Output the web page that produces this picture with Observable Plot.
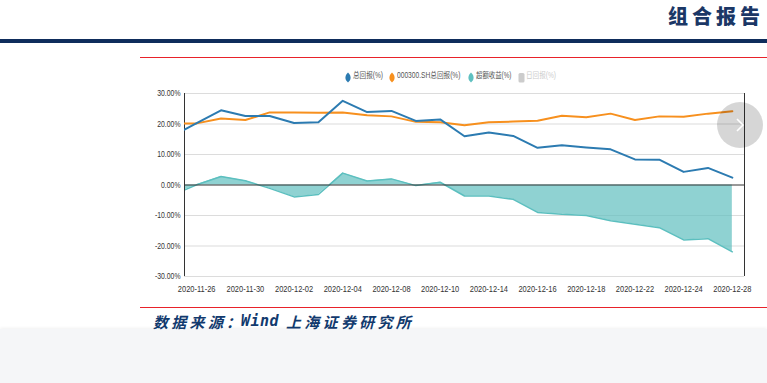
<!DOCTYPE html>
<html><head><meta charset="utf-8">
<script src="https://cdn.jsdelivr.net/npm/d3@7"></script>
<script src="https://cdn.jsdelivr.net/npm/@observablehq/plot@0.6"></script>
<style>
html,body{margin:0;padding:0;width:767px;height:383px;overflow:hidden;background:#fff;position:relative;font-family:"Liberation Sans","Noto Sans CJK SC",sans-serif;}
.abs{position:absolute;}
#title{right:3px;top:2px;font-family:"Noto Sans CJK SC",sans-serif;font-weight:900;font-size:20px;letter-spacing:4px;color:#1b3766;line-height:28px;white-space:nowrap;}
#navy{left:0;top:39px;width:767px;height:4px;background:#0f2d5c;}
.red{left:140px;width:627px;height:1px;background:#e8222a;}
.lg{top:69px;font-size:8.5px;line-height:12px;color:#555;white-space:nowrap;font-family:"Liberation Sans","Noto Sans CJK SC",sans-serif;transform-origin:0 50%;}
#chart{left:140px;top:85px;}
#bottom{left:0;top:329px;width:767px;height:54px;background:#f5f6f8;box-shadow:0 -1px 3px rgba(0,0,0,0.06);}
.cap{top:313px;font-size:15px;line-height:17px;font-weight:bold;font-style:italic;color:#123a6e;white-space:nowrap;}
#circle{left:717px;top:102px;width:46px;height:46px;border-radius:50%;background:rgba(0,0,0,0.16);}
</style></head>
<body>
<div id="title" class="abs">组合报告</div>
<div id="navy" class="abs"></div>
<div class="abs red" style="top:57px"></div>
<div id="legend"></div>
<div id="chart" class="abs"></div>
<div id="circle" class="abs"><svg width="46" height="46"><path d="M20,17 L26,23 L20,29" fill="none" stroke="#fff" stroke-width="1.6"/></svg></div>
<div class="abs red" style="top:307px"></div>
<div id="bottom" class="abs"></div>
<div class="abs cap" style="left:153px;font-family:'Noto Sans CJK SC',sans-serif;letter-spacing:3.3px;">数据来源</div>
<div class="abs cap" style="left:226px;font-family:'Noto Sans CJK SC',sans-serif;">：</div>
<div class="abs cap" style="left:241px;font-family:'DejaVu Sans Mono',monospace;letter-spacing:0.5px;">Wind</div>
<div class="abs cap" style="left:286px;font-family:'Noto Sans CJK SC',sans-serif;letter-spacing:3.3px;">上海证券研究所</div>
<script>
// trading dates (first one is partly outside the visible window)
const dates = ["2020-11-25","2020-11-26","2020-11-27","2020-11-30","2020-12-01","2020-12-02","2020-12-03","2020-12-04","2020-12-07","2020-12-08","2020-12-09","2020-12-10","2020-12-11","2020-12-14","2020-12-15","2020-12-16","2020-12-17","2020-12-18","2020-12-21","2020-12-22","2020-12-23","2020-12-24","2020-12-25","2020-12-28"];
const totalReturn = [16.0,20.3,24.5,22.6,22.6,20.3,20.6,27.6,23.9,24.3,21.0,21.5,16.0,17.2,16.1,12.2,13.0,12.3,11.7,8.4,8.3,4.3,5.6,2.4];
const benchReturn = [20.2,20.2,21.8,21.3,23.8,23.8,23.7,23.8,22.9,22.5,20.7,20.6,19.6,20.6,20.8,21.1,22.7,22.2,23.4,21.3,22.5,22.4,23.4,24.2];
const excessReturn = [-3.4,0.1,2.8,1.4,-1.1,-3.9,-3.1,3.9,1.3,2.0,-0.2,0.9,-3.6,-3.6,-4.7,-9.0,-9.6,-10.0,-11.7,-12.9,-14.0,-18.0,-17.6,-21.9];
const xTickLabels = ["2020-11-26","2020-11-30","2020-12-02","2020-12-04","2020-12-08","2020-12-10","2020-12-14","2020-12-16","2020-12-18","2020-12-22","2020-12-24","2020-12-28"];
const yTicks = [30,20,10,0,-10,-20,-30];
const seriesNames = ["总回报(%)","000300.SH总回报(%)","超额收益(%)","日回报(%)"];
const seriesColors = ["#2c7bb1","#f7901e","#5fc0c0","#cccccc"];

const rows = dates.map((d,i)=>({i, total: totalReturn[i], bench: benchReturn[i], excess: excessReturn[i]}));
const tickIdx = xTickLabels.map(d => dates.indexOf(d));

// legend (condensed look: each label squeezed to the reference width)
const lgMarkX = [344,387.5,466.5,517.5];
const lgTextX = [352.5,396.5,475.5,526];
const lgTextW = [30,63.5,35.5,30];
const legend = document.getElementById("legend");
seriesNames.forEach((name,k)=>{
  const m = document.createElement("div");
  m.className="abs";
  m.style.left = lgMarkX[k]+"px"; m.style.top = "69px";
  if (k<3) {
    m.innerHTML = `<svg width="8" height="11"><path d="M4,0.5 C7.5,4 7.5,7.5 4,10.5 C0.5,7.5 0.5,4 4,0.5 Z" fill="${seriesColors[k]}"/></svg>`;
  } else {
    m.innerHTML = `<svg width="8" height="11"><rect x="0.5" y="1" width="6" height="9.5" rx="1.5" fill="${seriesColors[k]}"/></svg>`;
  }
  legend.appendChild(m);
  const t = document.createElement("div");
  t.className="abs lg";
  t.style.left = lgTextX[k]+"px";
  t.textContent = name;
  if (k===3) t.style.color="#cccccc";
  legend.appendChild(t);
  const w = t.getBoundingClientRect().width;
  t.style.transform = `scaleX(${lgTextW[k]/w})`;
});

const chart = Plot.plot({
  width: 627, height: 215,
  marginLeft: 44, marginRight: 23, marginTop: 8, marginBottom: 24,
  style: {background:"transparent", fontSize:"9.5px", fontFamily:"'Liberation Sans',sans-serif", color:"#333"},
  x: {domain:[0.5, 23.5], ticks: tickIdx, tickFormat: i => dates[i], tickSize: 0, tickPadding: 9, label: null},
  y: {domain:[-30,30], ticks: yTicks, tickFormat: d => d.toFixed(2)+"%", tickSize: 0, tickPadding: 4, label: null},
  marks: [
    Plot.ruleY(yTicks.filter(d=>d!==0), {stroke:"#dcdcdc", strokeWidth:1.2}),
    Plot.areaY(rows, {x:"i", y:"excess", fill:"#5fbfbf", fillOpacity:0.7, clip:true}),
    Plot.lineY(rows, {x:"i", y:"excess", stroke:"#5cbfbf", strokeWidth:1.5, clip:true}),
    Plot.ruleY([0], {stroke:"#333", strokeWidth:1}),
    Plot.ruleX([0.5, 23.5], {y1:-30, y2:30, stroke:"#333", strokeWidth:1}),
    Plot.lineY(rows, {x:"i", y:"bench", stroke:seriesColors[1], strokeWidth:2, clip:true}),
    Plot.lineY(rows, {x:"i", y:"total", stroke:seriesColors[0], strokeWidth:2, clip:true})
  ]
});
document.getElementById("chart").appendChild(chart);

// condensed tick labels (reference uses a narrow face)
const texts = Array.from(chart.querySelectorAll("text"));
const scaleText = (el, s) => {
  ["x","dx"].forEach(a => {
    const v = el.getAttribute(a);
    if (v !== null && /^-?[\d.]+$/.test(v.trim())) el.setAttribute(a, +v / s);
  });
  el.setAttribute("transform", ((el.getAttribute("transform")||"") + ` scale(${s},1)`).trim());
};
const xTexts = texts.filter(t => /^\d{4}-\d{2}-\d{2}$/.test(t.textContent));
const yTexts = texts.filter(t => /%$/.test(t.textContent));
if (xTexts.length) {
  const sx = 37.7 / xTexts[0].getComputedTextLength();
  xTexts.forEach(t => scaleText(t, sx));
}
yTexts.forEach(t => t.setAttribute("font-size", "8.5"));
const ref = yTexts.find(t => t.textContent === "30.00%");
if (ref) {
  const sy = 23.3 / ref.getComputedTextLength();
  yTexts.forEach(t => scaleText(t, sy));
}
</script>
</body></html>
